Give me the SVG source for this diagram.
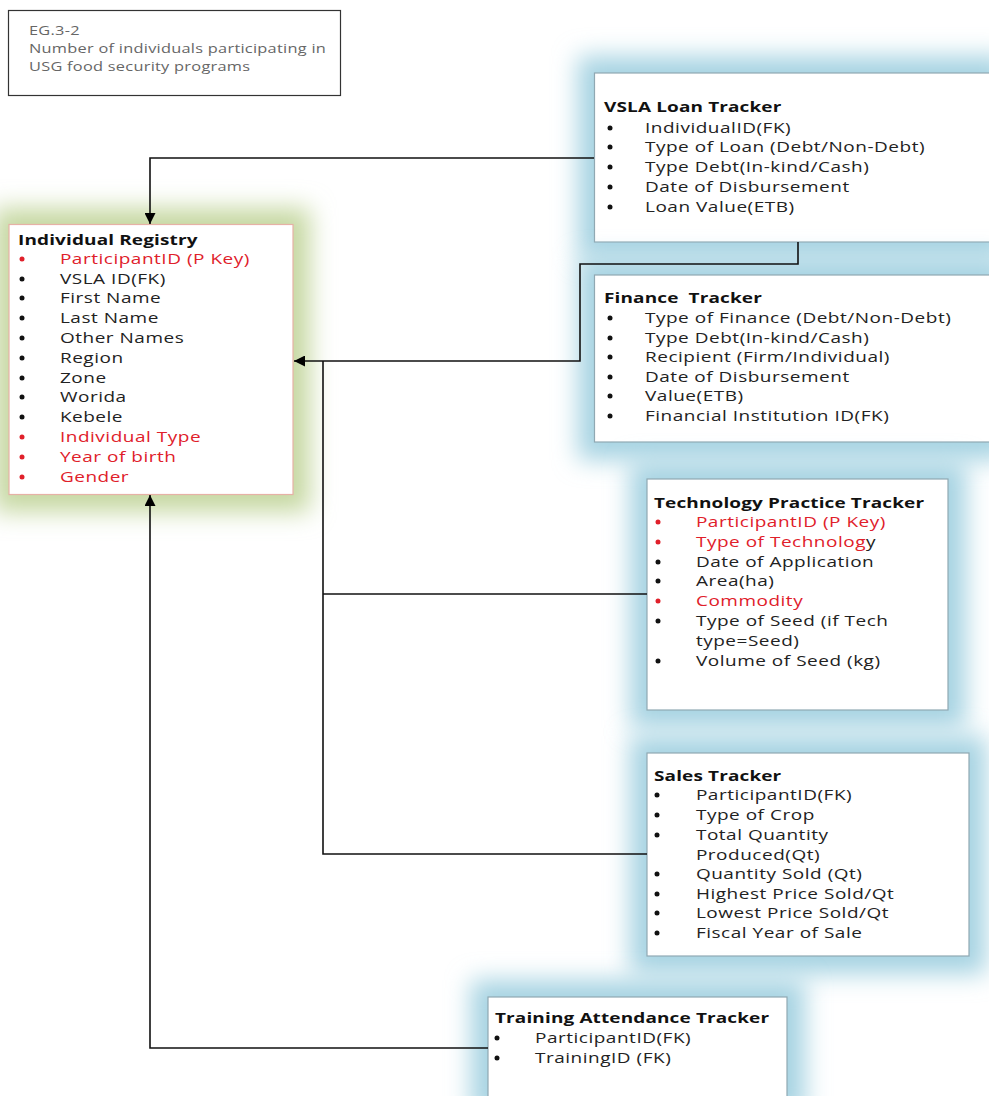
<svg xmlns="http://www.w3.org/2000/svg" width="989" height="1096" viewBox="0 0 989 1096">
<defs>
<filter id="glow" x="-25%" y="-25%" width="150%" height="150%"><feGaussianBlur stdDeviation="12"/></filter>
<marker id="arr" viewBox="0 0 10 10" refX="10" refY="5" markerWidth="11" markerHeight="11" markerUnits="userSpaceOnUse" orient="auto"><path d="M0,0 L10,5 L0,10 z" fill="#000"/></marker>
</defs>
<style>
text{font-family:"Open Sans","DejaVu Sans",sans-serif;font-size:14.5px;fill:#222;letter-spacing:0.4px}
.h{font-weight:bold;fill:#111;letter-spacing:0.1px}
.r{fill:#e0202a}
.t{font-size:12.5px;fill:#666;letter-spacing:0.2px}
.box{fill:#fff;stroke:#90a8b2;stroke-width:1.2}
.gb{fill:#a6d3e2}
.gg{fill:#c6d8a2}
.con{fill:none;stroke:#111;stroke-width:1.6}
circle{fill:#111}
circle.rd{fill:#e0202a}
</style>
<rect width="989" height="1096" fill="#fff"/>

<g id="title">
<rect x="8.5" y="10.5" width="332" height="85" fill="#fff" stroke="#333" stroke-width="1.2"/>
<g transform="translate(29,0) scale(1.31,1)">
<text class="t" x="0" y="35">EG.3-2</text>
<text class="t" x="0" y="53">Number of individuals participating in</text>
<text class="t" x="0" y="71">USG food security programs</text>
</g>
</g>

<g id="individual-registry">
<rect x="-6" y="208" width="316" height="304" class="gg" filter="url(#glow)"/>
<rect x="9" y="224.5" width="284" height="270" fill="#fff" stroke="#e6b1a6" stroke-width="1.2"/>
<circle class="rd" cx="22" cy="259" r="2.5"/>
<circle cx="22" cy="279" r="2.5"/>
<circle cx="22" cy="298" r="2.5"/>
<circle cx="22" cy="318" r="2.5"/>
<circle cx="22" cy="338" r="2.5"/>
<circle cx="22" cy="358" r="2.5"/>
<circle cx="22" cy="378" r="2.5"/>
<circle cx="22" cy="397" r="2.5"/>
<circle cx="22" cy="417" r="2.5"/>
<circle class="rd" cx="22" cy="437" r="2.5"/>
<circle class="rd" cx="22" cy="457" r="2.5"/>
<circle class="rd" cx="22" cy="477" r="2.5"/>
<g transform="translate(18,0) scale(1.31,1)">
<text class="h" x="0" y="245">Individual Registry</text>
<text class="r" x="32" y="264">ParticipantID (P Key)</text>
<text x="32" y="284">VSLA ID(FK)</text>
<text x="32" y="303">First Name</text>
<text x="32" y="323">Last Name</text>
<text x="32" y="343">Other Names</text>
<text x="32" y="363">Region</text>
<text x="32" y="383">Zone</text>
<text x="32" y="402">Worida</text>
<text x="32" y="422">Kebele</text>
<text class="r" x="32" y="442">Individual Type</text>
<text class="r" x="32" y="462">Year of birth</text>
<text class="r" x="32" y="482">Gender</text>
</g>
</g>

<g id="vsla-loan-tracker">
<rect x="578" y="56" width="430" height="203" class="gb" filter="url(#glow)"/>
<rect x="594.5" y="73" width="400" height="169" class="box"/>
<circle cx="610" cy="128" r="2.5"/>
<circle cx="610" cy="147" r="2.5"/>
<circle cx="610" cy="167" r="2.5"/>
<circle cx="610" cy="187" r="2.5"/>
<circle cx="610" cy="207" r="2.5"/>
<g transform="translate(604,0) scale(1.31,1)">
<text class="h" x="0" y="112">VSLA Loan Tracker</text>
<text x="31.3" y="133">IndividualID(FK)</text>
<text x="31.3" y="152">Type of Loan (Debt/Non-Debt)</text>
<text x="31.3" y="172">Type Debt(In-kind/Cash)</text>
<text x="31.3" y="192">Date of Disbursement</text>
<text x="31.3" y="212">Loan Value(ETB)</text>
</g>
</g>

<g id="finance-tracker">
<rect x="578" y="258" width="430" height="202" class="gb" filter="url(#glow)"/>
<rect x="594.5" y="275" width="400" height="167" class="box"/>
<circle cx="610" cy="318" r="2.5"/>
<circle cx="610" cy="338" r="2.5"/>
<circle cx="610" cy="357" r="2.5"/>
<circle cx="610" cy="377" r="2.5"/>
<circle cx="610" cy="396" r="2.5"/>
<circle cx="610" cy="416" r="2.5"/>
<g transform="translate(604,0) scale(1.31,1)">
<text class="h" x="0" y="303" xml:space="preserve">Finance  Tracker</text>
<text x="31.3" y="323">Type of Finance (Debt/Non-Debt)</text>
<text x="31.3" y="343">Type Debt(In-kind/Cash)</text>
<text x="31.3" y="362">Recipient (Firm/Individual)</text>
<text x="31.3" y="382">Date of Disbursement</text>
<text x="31.3" y="401">Value(ETB)</text>
<text x="31.3" y="421">Financial Institution ID(FK)</text>
</g>
</g>

<g id="technology-practice-tracker">
<rect x="630" y="462" width="336" height="266" class="gb" filter="url(#glow)"/>
<rect x="647" y="479" width="301" height="231" class="box"/>
<circle class="rd" cx="658" cy="522" r="2.5"/>
<circle class="rd" cx="658" cy="542" r="2.5"/>
<circle cx="658" cy="562" r="2.5"/>
<circle cx="658" cy="581" r="2.5"/>
<circle class="rd" cx="658" cy="601" r="2.5"/>
<circle cx="658" cy="621" r="2.5"/>
<circle cx="658" cy="661" r="2.5"/>
<g transform="translate(654,0) scale(1.31,1)">
<text class="h" x="0" y="508">Technology Practice Tracker</text>
<text class="r" x="32" y="527">ParticipantID (P Key)</text>
<text x="32" y="547"><tspan class="r">Type of Technolog</tspan>y</text>
<text x="32" y="567">Date of Application</text>
<text x="32" y="586">Area(ha)</text>
<text class="r" x="32" y="606">Commodity</text>
<text x="32" y="626">Type of Seed (if Tech</text>
<text x="32" y="646">type=Seed)</text>
<text x="32" y="666">Volume of Seed (kg)</text>
</g>
</g>

<g id="sales-tracker">
<rect x="630" y="736" width="356" height="238" class="gb" filter="url(#glow)"/>
<rect x="647" y="753" width="322" height="203" class="box"/>
<circle cx="657" cy="795" r="2.5"/>
<circle cx="657" cy="815" r="2.5"/>
<circle cx="657" cy="835" r="2.5"/>
<circle cx="657" cy="874" r="2.5"/>
<circle cx="657" cy="894" r="2.5"/>
<circle cx="657" cy="913" r="2.5"/>
<circle cx="657" cy="933" r="2.5"/>
<g transform="translate(654,0) scale(1.31,1)">
<text class="h" x="0" y="781">Sales Tracker</text>
<text x="32" y="800">ParticipantID(FK)</text>
<text x="32" y="820">Type of Crop</text>
<text x="32" y="840">Total Quantity</text>
<text x="32" y="860">Produced(Qt)</text>
<text x="32" y="879">Quantity Sold (Qt)</text>
<text x="32" y="899">Highest Price Sold/Qt</text>
<text x="32" y="918">Lowest Price Sold/Qt</text>
<text x="32" y="938">Fiscal Year of Sale</text>
</g>
</g>

<g id="training-attendance-tracker">
<rect x="471" y="980" width="334" height="136" class="gb" filter="url(#glow)"/>
<rect x="488" y="997" width="299" height="110" class="box"/>
<circle cx="497" cy="1038" r="2.5"/>
<circle cx="497" cy="1058" r="2.5"/>
<g transform="translate(495,0) scale(1.31,1)">
<text class="h" x="0" y="1023">Training Attendance Tracker</text>
<text x="30.5" y="1043">ParticipantID(FK)</text>
<text x="30.5" y="1063">TrainingID (FK)</text>
</g>
</g>

<g id="connectors">
<path class="con" d="M594,158 H150 V224" marker-end="url(#arr)"/>
<path class="con" d="M798,242 V264 H580 V361 H294" marker-end="url(#arr)"/>
<path class="con" d="M323,361 V854 H647"/>
<path class="con" d="M323,594 H647"/>
<path class="con" d="M488,1048 H150 V495" marker-end="url(#arr)"/>
</g>
</svg>
